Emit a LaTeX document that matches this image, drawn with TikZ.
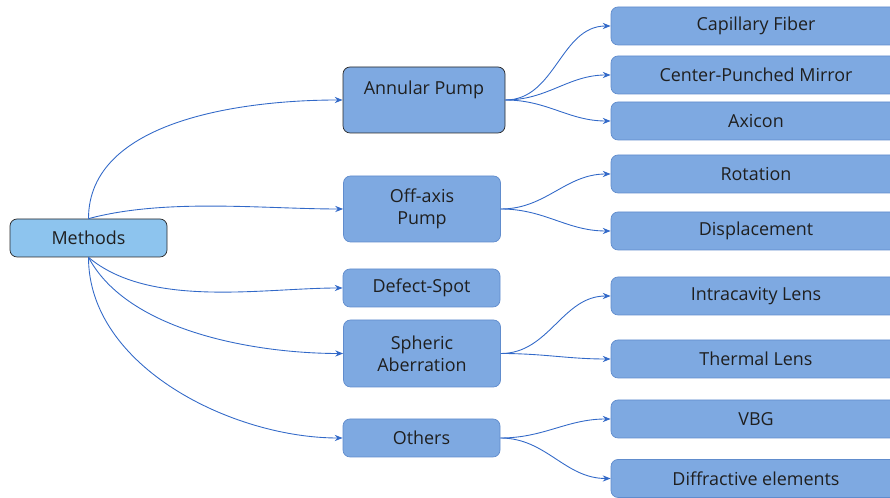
\documentclass[tikz,border=0pt]{standalone}
\usepackage{fontspec}
\setmainfont{Open Sans}
\usetikzlibrary{arrows.meta}

\definecolor{rootfill}{RGB}{141,196,238}
\definecolor{boxfill}{RGB}{126,169,225}
\definecolor{boxline}{RGB}{96,140,205}
\definecolor{linkblue}{RGB}{50,105,200}
\definecolor{darkline}{RGB}{40,40,40}

\begin{document}
\begin{tikzpicture}[
  methodbox/.style={draw=boxline,fill=boxfill,rounded corners=4pt,minimum width=3.14cm,
    align=center,text=black!88,font=\fontsize{10.2pt}{12.5pt}\selectfont},
  leafbox/.style={methodbox,minimum width=5.8cm,minimum height=0.76cm},
  link/.style={draw=linkblue,line width=0.5pt,-{Stealth[length=4.5pt,width=3.5pt]}}
]
\useasboundingbox (0,0) rectangle (17.8,9.96);
\clip (0,0) rectangle (17.8,9.96);

% root and the five methods
\node[methodbox,fill=rootfill,draw=darkline,minimum height=0.76cm] (methods) at (1.77,5.20) {Methods};
\node[methodbox,draw=darkline,minimum width=3.24cm,minimum height=1.32cm] (annular) at (8.48,7.96) {Annular Pump\\[2pt]\mbox{}};
\node[methodbox,minimum height=1.32cm] (offaxis) at (8.44,5.78) {Off-axis\\Pump};
\node[methodbox,minimum height=0.76cm] (defect) at (8.43,4.20) {Defect-Spot};
\node[methodbox,minimum height=1.34cm] (spheric) at (8.44,2.89) {Spheric\\Aberration};
\node[methodbox,minimum height=0.76cm] (others) at (8.43,1.20) {Others};

% leaves
\node[leafbox] (capillary) at (15.12,9.44) {Capillary Fiber};
\node[leafbox] (mirror) at (15.12,8.46) {Center-Punched Mirror};
\node[leafbox] (axicon) at (15.12,7.54) {Axicon};
\node[leafbox] (rotation) at (15.12,6.48) {Rotation};
\node[leafbox] (displace) at (15.12,5.34) {Displacement};
\node[leafbox] (intralens) at (15.12,4.04) {Intracavity Lens};
\node[leafbox] (thermlens) at (15.12,2.78) {Thermal Lens};
\node[leafbox] (vbg) at (15.12,1.58) {VBG};
\node[leafbox] (diffract) at (15.12,0.39) {Diffractive elements};

% connectors from the root
\draw[link] (methods.north) to[out=90,in=180,looseness=0.9] (annular.west);
\draw[link] (methods.north) to[out=15,in=180,looseness=0.8] (offaxis.west);
\draw[link] (methods.south) to[out=-40,in=180,looseness=0.8] (defect.west);
\draw[link] (methods.south) to[out=-62,in=180,looseness=0.8] (spheric.west);
\draw[link] (methods.south) to[out=-90,in=180,looseness=0.9] (others.west);

% connectors to the leaves
\foreach \leaf in {capillary,mirror,axicon}
  \draw[link] (annular.east) to[out=0,in=180] (\leaf.west);
\foreach \leaf in {rotation,displace}
  \draw[link] (offaxis.east) to[out=0,in=180] (\leaf.west);
\foreach \leaf in {intralens,thermlens}
  \draw[link] (spheric.east) to[out=0,in=180] (\leaf.west);
\foreach \leaf in {vbg,diffract}
  \draw[link] (others.east) to[out=0,in=180] (\leaf.west);
\end{tikzpicture}
\end{document}
